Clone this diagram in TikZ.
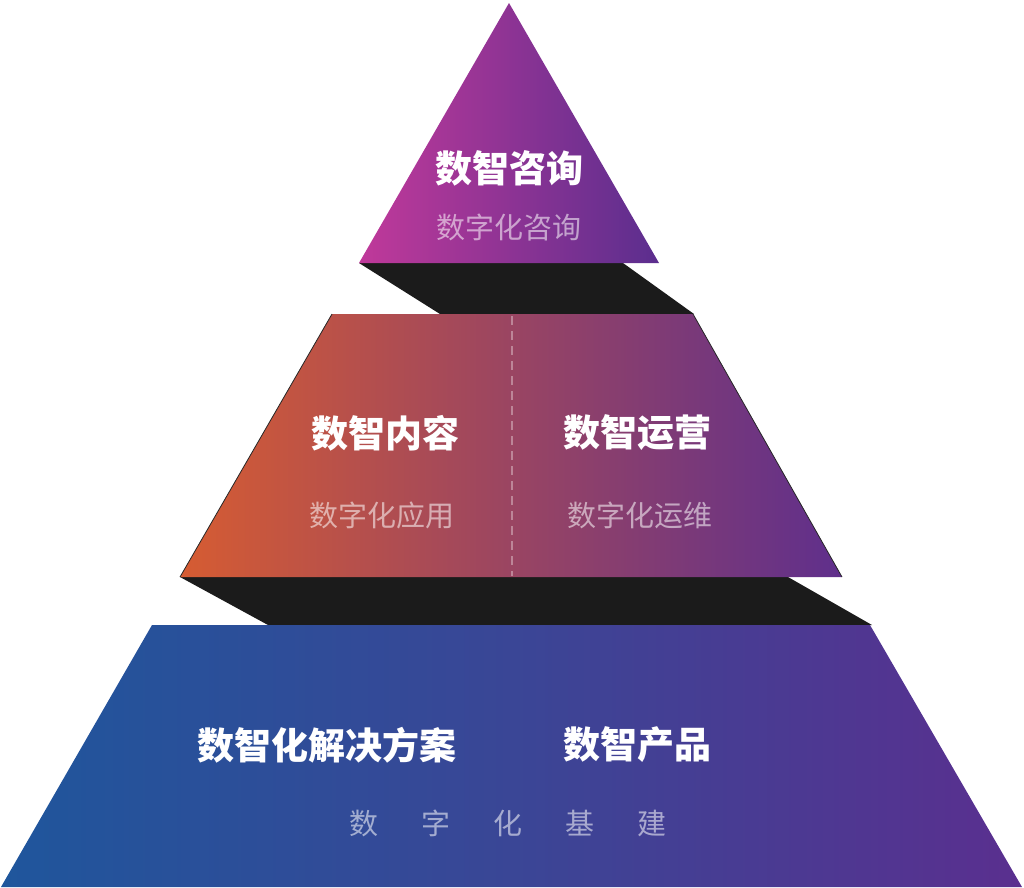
\documentclass[tikz,border=0pt]{standalone}
\usepackage{fontspec}
\setmainfont{Noto Sans CJK SC}
\definecolor{topL}{HTML}{C0399A}
\definecolor{topR}{HTML}{5B2E8E}
\definecolor{midL}{HTML}{D65C32}
\definecolor{midM}{HTML}{9A4562}
\definecolor{midR}{HTML}{5F2F8C}
\definecolor{botL}{HTML}{1F569C}
\definecolor{botM}{HTML}{3A4696}
\definecolor{botR}{HTML}{5A2F8F}
\definecolor{shadowgray}{HTML}{1B1B1B}
\tikzset{title/.style={text=white,inner sep=0pt,font=\bfseries\fontsize{37}{37}\selectfont},
  subtitle/.style={text=white,text opacity=.55,inner sep=0pt,font=\fontsize{29}{29}\selectfont},
  shadow/.style={fill=shadowgray},
  edge/.style={draw=black!85,line width=.8pt}}
\begin{document}
\begin{tikzpicture}[x=1pt,y=-1pt]
  \path[use as bounding box] (0,0) rectangle (1024,887);
  % shadows under the tiers
  \fill[shadow] (359,263) -- (623,263) -- (694,314) -- (440,314) -- cycle;
  \fill[shadow] (180,577) -- (788,577) -- (872,625) -- (268,625) -- cycle;
  % tiers
  \shade[left color=topL,right color=topR] (509,3) -- (659,263) -- (359,263) -- cycle;
  \shade[left color=midL,right color=midR,middle color=midM] (332,314) -- (693,314) -- (842,577) -- (180,577) -- cycle;
  \draw[edge] (180,577) -- (332,314); \draw[edge] (693,314) -- (842,577);
  \shade[left color=botL,right color=botR,middle color=botM] (152,625) -- (870,625) -- (1022,887) -- (1,887) -- cycle;
  \draw[white,opacity=.35,line width=1.5pt,dash pattern=on 9pt off 6pt] (512,316) -- (512,576);
  % texts
  \node[title] (t1) at (509,168) {数智咨询};
  \node[subtitle] (t1s) at (509,228) {数字化咨询};
  \node[title] (t2a) at (385,433) {数智内容};
  \node[subtitle] (t2as) at (382,515) {数字化应用};
  \node[title] (t2b) at (637,433) {数智运营};
  \node[subtitle] (t2bs) at (640,515) {数字化运维};
  \node[title] (t3a) at (327,745) {数智化解决方案};
  \node[title] (t3b) at (637,745) {数智产品};
  \foreach \c [count=\i] in {数,字,化,基,建}
    \node[subtitle] (t3s\i) at (364+72*\i-72,823) {\c};
\end{tikzpicture}
\end{document}
